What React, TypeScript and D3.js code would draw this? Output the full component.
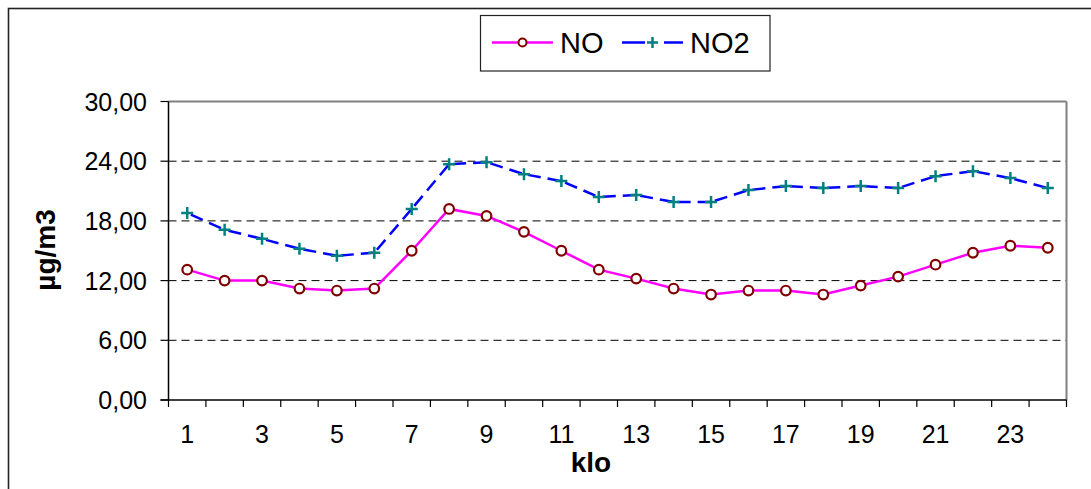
import * as d3 from "d3";

// hours of the day and hourly averages (µg/m3)
const hours = d3.range(1, 25);
const noValues = [
  13.1, 12.0, 12.0, 11.2, 11.0, 11.2, 15.0, 19.2, 18.5, 16.9, 15.0, 13.1,
  12.2, 11.2, 10.6, 11.0, 11.0, 10.6, 11.5, 12.4, 13.6, 14.8, 15.5, 15.3,
];
const no2Values = [
  18.8, 17.1, 16.2, 15.2, 14.5, 14.8, 19.2, 23.7, 23.9, 22.7, 22.0, 20.4,
  20.6, 19.9, 19.9, 21.1, 21.5, 21.3, 21.5, 21.3, 22.5, 23.0, 22.3, 21.3,
];
const yTickValues = [0, 6, 12, 18, 24, 30];
const xLabelValues = hours.filter((h) => h % 2 === 1);

const width = 1091;
const height = 489;
const plot = { left: 168.5, right: 1066.5, top: 101.5, bottom: 400 };
const font = "'Liberation Sans', Arial, sans-serif";

const fmt = d3.formatLocale({
  decimal: ",",
  thousands: ".",
  grouping: [3],
  currency: ["", ""],
}).format(".2f");

export default function App() {
  const xScale = d3
    .scaleBand<number>()
    .domain(hours)
    .range([plot.left, plot.right])
    .padding(0);
  const yScale = d3
    .scaleLinear()
    .domain([0, 30])
    .range([plot.bottom, plot.top]);
  const cx = (h: number) => (xScale(h) ?? 0) + xScale.bandwidth() / 2;

  const line = d3
    .line<number>()
    .x((_, i) => cx(hours[i]))
    .y((d) => yScale(d));

  const xTickPositions = [...hours.map((h) => xScale(h) ?? 0), plot.right];

  // dashed NO2 segments, each one starting with a gap like Excel does
  const no2Segments = no2Values.slice(0, -1).map((v, i) => ({
    x1: cx(hours[i]),
    y1: yScale(v),
    x2: cx(hours[i + 1]),
    y2: yScale(no2Values[i + 1]),
  }));

  return (
    <div style={{ position: "fixed", left: 0, top: 0, width, height, overflow: "hidden", background: "#fff" }}>
      <svg width={width} height={height} style={{ display: "block" }}>
        <rect x={0} y={0} width={width} height={height} fill="#fff" />
        {/* chart frame */}
        <rect x={8.5} y={8.5} width={1200} height={600} fill="none" stroke="#222" strokeWidth={1.6} />

        {/* grid */}
        {yTickValues
          .filter((v) => v > 0 && v < 30)
          .map((v) => (
            <line
              key={v}
              x1={plot.left}
              x2={plot.right}
              y1={yScale(v)}
              y2={yScale(v)}
              stroke="#000"
              strokeWidth={1}
              strokeDasharray="8 5"
            />
          ))}

        {/* plot area border */}
        <line x1={plot.left} x2={plot.right} y1={plot.top} y2={plot.top} stroke="#808080" strokeWidth={2} />
        <line x1={plot.right} x2={plot.right} y1={plot.top} y2={plot.bottom} stroke="#808080" strokeWidth={2} />

        {/* axes */}
        <line x1={plot.left} x2={plot.left} y1={plot.top} y2={plot.bottom} stroke="#000" strokeWidth={1.5} />
        <line x1={plot.left - 8} x2={plot.right} y1={plot.bottom} y2={plot.bottom} stroke="#000" strokeWidth={1.5} />
        {yTickValues.map((v) => (
          <g key={v}>
            <line x1={plot.left - 8} x2={plot.left} y1={yScale(v)} y2={yScale(v)} stroke="#000" strokeWidth={1.2} />
            <text
              x={147}
              y={yScale(v)}
              dy={9}
              textAnchor="end"
              fontFamily={font}
              fontSize={25}
              fill="#000"
            >
              {fmt(v)}
            </text>
          </g>
        ))}
        {xTickPositions.map((x, i) => (
          <line key={i} x1={x} x2={x} y1={plot.bottom} y2={plot.bottom + 7} stroke="#000" strokeWidth={1.2} />
        ))}
        {xLabelValues.map((h) => (
          <text key={h} x={cx(h)} y={443} textAnchor="middle" fontFamily={font} fontSize={25} fill="#000">
            {h}
          </text>
        ))}

        {/* axis titles */}
        <text x={591} y={472} textAnchor="middle" fontFamily={font} fontSize={28} fontWeight="bold" fill="#000">
          klo
        </text>
        <text
          transform={`translate(55,250) rotate(-90)`}
          textAnchor="middle"
          fontFamily={font}
          fontSize={28}
          fontWeight="bold"
          fill="#000"
        >
          µg/m3
        </text>

        {/* NO2 series */}
        {no2Segments.map((s, i) => (
          <line
            key={i}
            x1={s.x1}
            y1={s.y1}
            x2={s.x2}
            y2={s.y2}
            stroke="#0000ff"
            strokeWidth={2.5}
            strokeDasharray="13 7"
            strokeDashoffset={16}
          />
        ))}
        {no2Values.map((v, i) => (
          <path
            key={i}
            d={`M${cx(hours[i]) - 6},${yScale(v)}h12M${cx(hours[i])},${yScale(v) - 6}v12`}
            stroke="#008080"
            strokeWidth={2.5}
          />
        ))}

        {/* NO series */}
        <path d={line(noValues) ?? ""} fill="none" stroke="#ff00ff" strokeWidth={2.5} />
        {noValues.map((v, i) => (
          <circle key={i} cx={cx(hours[i])} cy={yScale(v)} r={4.8} fill="#fff" stroke="#800000" strokeWidth={2.2} />
        ))}

        {/* legend */}
        <rect x={480.5} y={15.5} width={289.5} height={55.5} fill="#fff" stroke="#222" strokeWidth={1.2} />
        <line x1={492} x2={553} y1={42.5} y2={42.5} stroke="#ff00ff" strokeWidth={2.5} />
        <circle cx={522.5} cy={42.5} r={4} fill="#fff" stroke="#800000" strokeWidth={2} />
        <text x={560} y={53} fontFamily={font} fontSize={29} fill="#000">
          NO
        </text>
        <line x1={622} x2={645} y1={42.5} y2={42.5} stroke="#0000ff" strokeWidth={2.5} />
        <line x1={664} x2={683} y1={42.5} y2={42.5} stroke="#0000ff" strokeWidth={2.5} />
        <path d="M647,42.5h11M652.5,37v11" stroke="#008080" strokeWidth={2.5} />
        <text x={690} y={53} fontFamily={font} fontSize={29} fill="#000">
          NO2
        </text>
      </svg>
    </div>
  );
}
